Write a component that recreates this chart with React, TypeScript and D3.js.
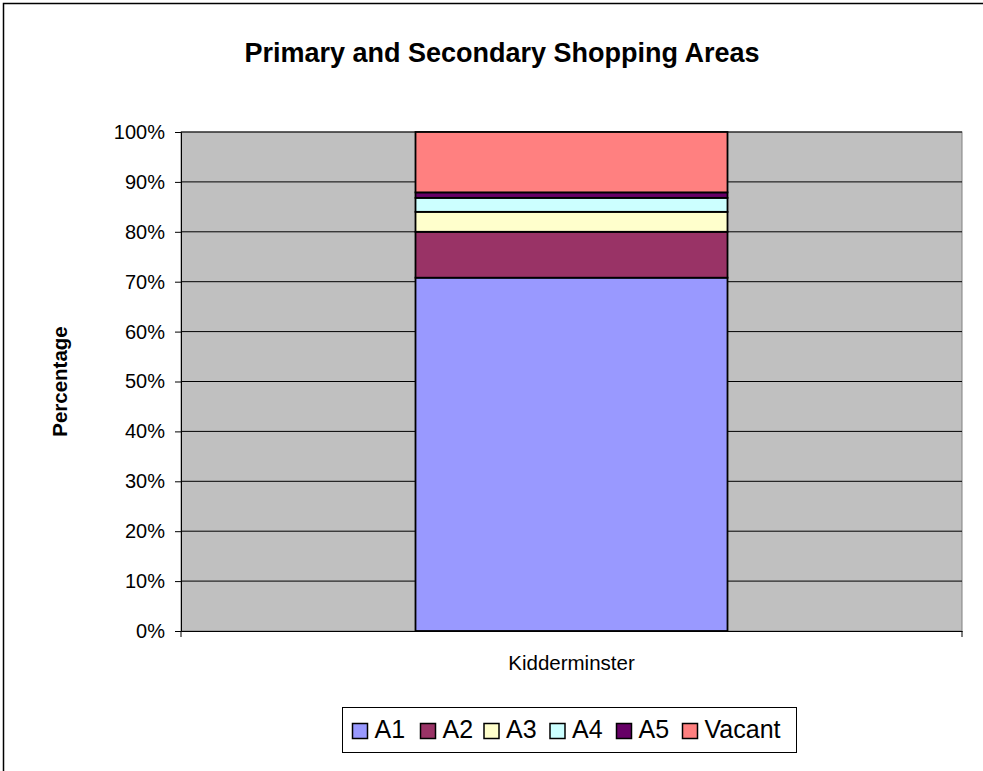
import { useEffect, useRef } from "react";
import * as d3 from "d3";

const categories = ["Kidderminster"];
const seriesNames = ["A1", "A2", "A3", "A4", "A5", "Vacant"];
const seriesValues = [70.8, 9.2, 4.0, 2.8, 1.1, 12.1];
const seriesColors = ["#9999FF", "#993366", "#FFFFCC", "#CCFFFF", "#660066", "#FF8080"];
const yTicks = [0, 10, 20, 30, 40, 50, 60, 70, 80, 90, 100];

const W = 983;
const H = 771;
const FONT = "Arial, 'Liberation Sans', sans-serif";

export default function App() {
  const ref = useRef<SVGSVGElement>(null);

  useEffect(() => {
    if (!ref.current) return;
    document.body.style.overflow = "hidden";
    const svg = d3.select(ref.current);
    svg.selectAll("*").remove();

    const plot = { left: 181, right: 962, top: 132, bottom: 631 };

    // white chart area, only top and left edges of its border are in view
    svg.append("rect").attr("width", W).attr("height", H).attr("fill", "#fff");
    svg.append("path")
      .attr("d", `M3.5,${H}V3.5H${W}`)
      .attr("fill", "none").attr("stroke", "#000").attr("stroke-width", 1.5);

    const y = d3.scaleLinear().domain([0, 100]).range([plot.bottom, plot.top]);
    const x = d3.scaleBand().domain(categories).range([plot.left, plot.right]).paddingInner(0)
      .paddingOuter((plot.right - plot.left - 312) / 2 / 312);

    svg.append("rect")
      .attr("x", plot.left).attr("y", plot.top)
      .attr("width", plot.right - plot.left).attr("height", plot.bottom - plot.top)
      .attr("fill", "#C0C0C0").attr("stroke", "#808080").attr("stroke-width", 1);

    // gridlines
    svg.append("g").selectAll("line")
      .data(yTicks.filter((t) => t > 0))
      .enter().append("line")
      .attr("x1", plot.left).attr("x2", plot.right)
      .attr("y1", (d) => y(d)).attr("y2", (d) => y(d))
      .attr("stroke", "#000").attr("stroke-width", 1);

    // y axis
    const yAxis = svg.append("g")
      .attr("transform", `translate(${plot.left},0)`)
      .call(d3.axisLeft(y).tickValues(yTicks).tickSize(6).tickPadding(10).tickFormat((d) => `${d}%`));
    yAxis.attr("font-family", null).attr("font-size", null);
    yAxis.select(".domain").attr("stroke", "#000");
    yAxis.selectAll(".tick line").attr("stroke", "#000");
    yAxis.selectAll("text")
      .attr("fill", "#000")
      .style("font-family", FONT)
      .style("font-size", "20px");

    // x axis
    const xAxis = svg.append("g")
      .attr("transform", `translate(0,${plot.bottom})`)
      .call(d3.axisBottom(x).tickSize(0).tickPadding(24));
    xAxis.attr("font-family", null).attr("font-size", null);
    xAxis.select(".domain").attr("stroke", "#000");
    xAxis.selectAll("text")
      .attr("fill", "#000")
      .style("font-family", FONT)
      .style("font-size", "20.5px");
    svg.append("g").selectAll("line")
      .data([plot.left, plot.right])
      .enter().append("line")
      .attr("x1", (d) => d).attr("x2", (d) => d)
      .attr("y1", plot.bottom).attr("y2", plot.bottom + 6)
      .attr("stroke", "#000");

    // stacked bar
    const row: Record<string, number | string> = { cat: categories[0] };
    seriesNames.forEach((s, i) => (row[s] = seriesValues[i]));
    const stack = d3.stack<Record<string, number | string>>().keys(seriesNames)
      .value((d, k) => d[k] as number);
    const layers = stack([row]);

    svg.append("g").selectAll("g")
      .data(layers)
      .enter().append("g")
      .attr("fill", (_, i) => seriesColors[i])
      .selectAll("rect")
      .data((d) => d)
      .enter().append("rect")
      .attr("x", (d) => x(d.data.cat as string)!)
      .attr("width", x.bandwidth())
      .attr("y", (d) => y(d[1]))
      .attr("height", (d) => y(d[0]) - y(d[1]))
      .attr("stroke", "#000").attr("stroke-width", 1.8);

    // title
    svg.append("text")
      .attr("x", 502).attr("y", 62)
      .attr("text-anchor", "middle")
      .style("font-family", FONT)
      .style("font-size", "27px").style("font-weight", "bold")
      .text("Primary and Secondary Shopping Areas");

    // y label
    svg.append("text")
      .attr("transform", `translate(67,${(326 + 437) / 2}) rotate(-90)`)
      .attr("text-anchor", "middle")
      .style("font-family", FONT)
      .style("font-size", "20.5px").style("font-weight", "bold")
      .text("Percentage");

    // legend
    const lg = svg.append("g").attr("transform", "translate(342.5,707.5)");
    lg.append("rect").attr("width", 454).attr("height", 45)
      .attr("fill", "#fff").attr("stroke", "#000").attr("stroke-width", 1);
    const offsets = [10, 78, 141.5, 207.5, 274, 340];
    const items = lg.selectAll("g.item")
      .data(seriesNames)
      .enter().append("g")
      .attr("class", "item")
      .attr("transform", (_, i) => `translate(${offsets[i]},0)`);
    items.append("rect")
      .attr("x", 0).attr("y", 16).attr("width", 15).attr("height", 15)
      .attr("fill", (_, i) => seriesColors[i]).attr("stroke", "#000").attr("stroke-width", 1.5);
    items.append("text")
      .attr("x", 22).attr("y", 30)
      .style("font-family", FONT)
      .style("font-size", "25px")
      .text((d) => d);
  }, []);

  return (
    <div style={{ position: "absolute", left: 0, top: 0 }}>
      <svg ref={ref} width={W} height={H} style={{ display: "block", overflow: "hidden" }} />
    </div>
  );
}
